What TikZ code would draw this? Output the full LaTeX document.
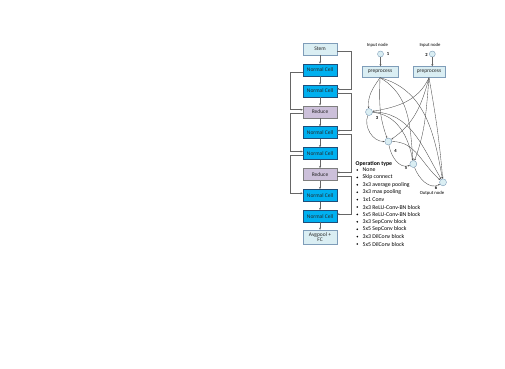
\documentclass[tikz,border=0pt]{standalone}
\usepackage{fontspec}
\setmainfont{Carlito}
\usetikzlibrary{arrows.meta,calc}
\definecolor{headc}{HTML}{DAEEF3}
\definecolor{heade}{HTML}{7F9DB9}
\definecolor{normc}{HTML}{00B0F0}
\definecolor{norme}{HTML}{1F4E79}
\definecolor{redc}{HTML}{CCC0DA}
\definecolor{rede}{HTML}{7F7F7F}
\newcommand{\skiplink}[4]{%
  \draw[link] ([yshift=-2pt]#1.#3) -- ++(#4,0) |- ([yshift=2pt]#2.#3);}

\begin{document}
\begin{tikzpicture}[x=1pt, y=-1pt,
  cellbox/.style={draw, minimum width=34pt, minimum height=12pt, inner sep=0pt,
    font=\fontsize{5.5}{6}\selectfont, text=black!85},
  headbox/.style={cellbox, fill=headc, draw=heade},
  normalbox/.style={cellbox, fill=normc, draw=norme},
  reducebox/.style={cellbox, fill=redc, draw=rede},
  link/.style={draw=black!60, line width=0.45pt, -{Stealth[length=2.2pt,width=2pt]}},
  dagnode/.style={circle, draw=heade, fill=headc, minimum size=7pt, inner sep=0pt},
  curve/.style={draw=black!70, line width=0.35pt, -{Stealth[length=1.8pt,width=1.6pt]}},
  small/.style={font=\fontsize{4.7}{5}\selectfont, inner sep=0pt},
  num/.style={font=\bfseries\fontsize{4.6}{5}\selectfont, inner sep=0pt}]
  \useasboundingbox[fill=white] (0,0) rectangle (505,368);
  \foreach \nm/\yy/\sty/\txt in {stem/49/headbox/Stem, nc1/69.9/normalbox/Normal Cell,
      nc2/90.8/normalbox/Normal Cell, rd1/111.7/reducebox/Reduce,
      nc3/132.6/normalbox/Normal Cell, nc4/153.5/normalbox/Normal Cell,
      rd2/174.4/reducebox/Reduce, nc5/195.3/normalbox/Normal Cell,
      nc6/216.2/normalbox/Normal Cell}
    \node[\sty] (\nm) at (320,\yy) {\txt};
  \node[headbox, minimum height=14pt, align=center] (head) at (320,237)
    {Avgpool +\\[-0.6pt]FC};
  \foreach \a/\b in {stem/nc1, nc1/nc2, nc2/rd1, rd1/nc3, nc3/nc4, nc4/rd2,
      rd2/nc5, nc5/nc6, nc6/head}
    \draw[link] (\a) -- (\b);
  \skiplink{stem}{nc2}{east}{14}
  \skiplink{nc2}{nc3}{east}{14}
  \skiplink{nc3}{rd2}{east}{14}
  \skiplink{rd2}{nc6}{east}{14}
  \skiplink{nc1}{rd1}{west}{-13}
  \skiplink{rd1}{nc4}{west}{-13}
  \skiplink{nc4}{nc5}{west}{-13}

  \node[small] (lin1) at (377.5,45) {Input node};
  \node[small] (lin2) at (430,45) {Input node};
  \node[dagnode, minimum size=6pt] (in1) at (380.5,54) {};
  \node[dagnode, minimum size=6pt] (in2) at (432.3,54) {};
  \node[num] (t1) at (388,54.5) {1};
  \node[num] (t2) at (426.5,54.5) {2};
  \node[headbox, minimum width=36pt, minimum height=11pt] (pre1) at (380,72) {preprocess};
  \node[headbox, minimum width=32pt, minimum height=11pt] (pre2) at (429,72) {preprocess};
  \draw[link] (in1) -- (in1 |- pre1.north);
  \draw[link] (in2) -- (in2 |- pre2.north);

  \node[dagnode] (n3) at (369,112) {};
  \node[dagnode] (n4) at (388.3,141.5) {};
  \node[dagnode] (n5) at (413.3,164) {};
  \node[dagnode] (n6) at (443,182.3) {};
  \node[num] (t3) at (377,118.3) {3};
  \node[num] (t4) at (395.5,151) {4};
  \node[num] (t5) at (406,168.3) {5};
  \node[num] (t6) at (436,187.7) {6};
  \node[small] (lout) at (432,193.5) {Output node};

  \draw[curve] (pre1.south) to[out=235, in=95] (n3);
  \draw[curve] (pre1.south) to[out=268, in=110] (n4);
  \draw[curve] (pre1.south) to[out=330, in=95] (n5);
  \draw[curve] (pre1.south) to[out=345, in=100] (n6);
  \draw[curve] (pre2.south) to[out=245, in=10] (n3);
  \draw[curve] (pre2.south) to[out=255, in=35] (n4);
  \draw[curve] (pre2.south) to[out=265, in=70] (n5);
  \draw[curve] (pre2.south) to[out=280, in=95] (n6);
  \draw[curve] (n3) to[out=250, in=180] (n4);
  \draw[curve] (n3) to[out=-5, in=100] (n5);
  \draw[curve] (n3) to[out=0, in=120] (n6);
  \draw[curve] (n4) to[out=280, in=200] (n5);
  \draw[curve] (n4) to[out=0, in=140] (n6);
  \draw[curve] (n5) to[out=290, in=210] (n6);

  \node[anchor=west, font=\bfseries\fontsize{5.8}{6}\selectfont, inner sep=0pt]
    (optitle) at (355.5,163.5) {Operation type};
  \foreach \op [count=\i from 0] in {None, Skip connect, 3x3 average pooling,
      3x3 max pooling, 1x1 Conv, 3x3 ReLU-Conv-BN block, 5x5 ReLU-Conv-BN block,
      3x3 SepConv block, 5x5 SepConv block, 3x3 DilConv block, 5x5 DilConv block}{
    \fill (357.3,170+7.4*\i) circle (0.9);
    \node[anchor=west, font=\fontsize{5.8}{6}\selectfont, inner sep=0pt]
      (op\i) at (362.5,170+7.4*\i) {\op};}
\end{tikzpicture}
\end{document}
